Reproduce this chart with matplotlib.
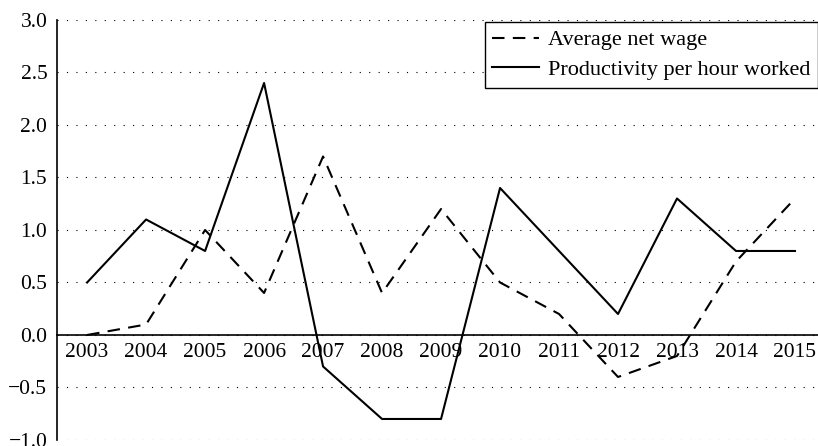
import matplotlib
matplotlib.use('Agg')

import matplotlib.pyplot as plt
import numpy as np

# ---------------------------
# DATA
# ---------------------------
years = ['2003', '2004', '2005', '2006', '2007', '2008', '2009',
         '2010', '2011', '2012', '2013', '2014', '2015']
wage = [0.0, 0.1, 1.0, 0.4, 1.7, 0.4, 1.2, 0.5, 0.2, -0.4, -0.2, 0.7, 1.3]
productivity = [0.5, 1.1, 0.8, 2.4, -0.3, -0.8, -0.8, 1.4, 0.8, 0.2, 1.3, 0.8, 0.8]
yticks = [-1.0, -0.5, 0.0, 0.5, 1.0, 1.5, 2.0, 2.5, 3.0]

plt.rcParams['font.family'] = ['Liberation Serif', 'DejaVu Serif']

# ---------------------------
# FIGURE
# ---------------------------
fig = plt.figure(figsize=(8.18, 4.46), dpi=100)
ax = fig.add_axes([0.0697, 0.0135, 0.9303, 0.9417])

x = np.arange(len(years))
ax.plot(x, wage, color='black', lw=1.5, linestyle=(0, (6, 4)),
        label='Average net wage')
ax.plot(x, productivity, color='black', lw=1.5,
        label='Productivity per hour worked')

ax.set_xlim(-0.51, 12.39)
ax.set_ylim(-1.0, 3.0)
ax.set_yticks(yticks)
ax.set_yticklabels([f'{v:.1f}'.replace('-', '\u2212') for v in yticks])
ax.set_xticks(x)
ax.set_xticklabels(years)

# dotted grid, ~9 px between dots
ax.yaxis.grid(True, linestyle=(0, (1, 7.5)), color='black', lw=0.8)
ax.set_axisbelow(True)

ax.spines['top'].set_visible(False)
ax.spines['right'].set_visible(False)
ax.spines['bottom'].set_position(('data', 0))
ax.spines['bottom'].set_linewidth(1.2)
ax.spines['left'].set_linewidth(1.2)

ax.tick_params(axis='both', length=0, labelsize=15.5)
ax.tick_params(axis='y', pad=7)
ax.tick_params(axis='x', pad=6)

leg = ax.legend(loc='upper right', bbox_to_anchor=(1.0, 0.995),
                borderaxespad=0, fontsize=16, fancybox=False,
                edgecolor='black', framealpha=1, handlelength=2.1,
                borderpad=0.35, labelspacing=0.4, handletextpad=0.4)
leg.get_frame().set_linewidth(1.0)

fig.savefig('out.png', dpi=100)
